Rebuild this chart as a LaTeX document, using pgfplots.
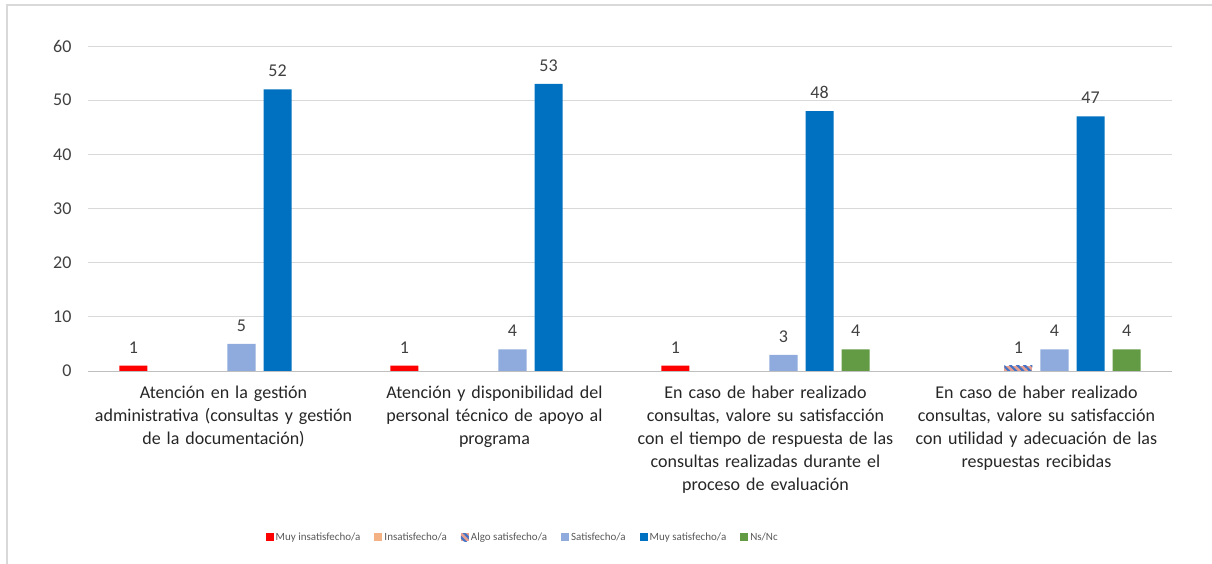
\documentclass[border=0pt]{standalone}
\usepackage{pgfplots}
\pgfplotsset{compat=1.18}
\usepackage{fontspec}
\setmainfont{Carlito}
\usetikzlibrary{patterns.meta}
\definecolor{cRed}{HTML}{FF0000}
\definecolor{cOrange}{HTML}{F4B183}
\definecolor{cSalmon}{HTML}{E8A090}
\definecolor{cStripe}{HTML}{4472C4}
\definecolor{cSat}{HTML}{8FAADC}
\definecolor{cMuy}{HTML}{0070C0}
\definecolor{cNs}{HTML}{629B44}
\definecolor{cGrid}{HTML}{D9D9D9}
\definecolor{cAxis}{HTML}{BFBFBF}
\definecolor{cText}{HTML}{404040}
\definecolor{cLeg}{HTML}{595959}
\begin{document}
\begin{tikzpicture}
\useasboundingbox (0,0) rectangle (1212bp,564bp);
\draw[cGrid, line width=1.2bp] (7bp,0) -- (7bp,559bp) -- (1212bp,559bp);
\begin{axis}[
  at={(88bp,193bp)}, anchor=south west,
  scale only axis, width=1084bp, height=325bp,
  xmin=-0.5, xmax=3.5, ymin=0, ymax=60,
  ytick={0,10,20,30,40,50,60},
  xtick={0,1,2,3},
  xticklabels={
    {Atención en la gestión\\administrativa (consultas y gestión\\de la documentación)},
    {Atención y disponibilidad del\\personal técnico de apoyo al\\programa},
    {En caso de haber realizado\\consultas, valore su satisfacción\\con el tiempo de respuesta de las\\consultas realizadas durante el\\proceso de evaluación},
    {En caso de haber realizado\\consultas, valore su satisfacción\\con utilidad y adecuación de las\\respuestas recibidas}},
  xticklabel style={align=center, text width=260bp, font=\fontsize{18bp}{23bp}\selectfont, text=black!85, yshift=-11bp},
  yticklabel style={font=\fontsize{18bp}{22bp}\selectfont, text=cText, xshift=-13bp},
  /pgf/number format/assume math mode=true,
  major tick length=0pt,
  axis lines*=left,
  x axis line style={draw=cAxis, line width=1bp, -},
  y axis line style={draw=none},
  ymajorgrids, grid style={draw=cGrid, line width=1bp},
  ybar, bar width=0.1035,
  nodes near coords,
  every node near coord/.append style={font=\fontsize{18bp}{22bp}\selectfont, text=cText, yshift=9bp},
  legend columns=6,
  legend cell align=left,
  legend style={draw=none, fill=none, at={(0.401,-0.511)}, anchor=center,
    font=\fontsize{11bp}{13bp}\selectfont, text=cLeg,
    /tikz/every even column/.append style={column sep=12bp},
    /tikz/every odd column/.append style={column sep=0bp}},
  legend image code/.code={\fill[#1] (0bp,-4bp) rectangle (8bp,4bp);},
]
\addplot[fill=cRed, draw=none, bar shift=-0.3325] coordinates {(0,1) (1,1) (2,1)};
\addlegendentry{Muy insatisfecho/a}
\addplot[fill=cOrange, draw=none, bar shift=-0.1995] coordinates {(5,0)};
\addlegendentry{Insatisfecho/a}
\addplot[fill=cSalmon, draw=none, bar shift=-0.0665,
  postaction={pattern={Lines[angle=-45, distance=5bp, line width=2.2bp]}, pattern color=cStripe}] coordinates {(3,1)};
\addlegendentry{Algo satisfecho/a}
\addplot[fill=cSat, draw=none, bar shift=0.0665] coordinates {(0,5) (1,4) (2,3) (3,4)};
\addlegendentry{Satisfecho/a}
\addplot[fill=cMuy, draw=none, bar shift=0.1995] coordinates {(0,52) (1,53) (2,48) (3,47)};
\addlegendentry{Muy satisfecho/a}
\addplot[fill=cNs, draw=none, bar shift=0.3325] coordinates {(2,4) (3,4)};
\addlegendentry{Ns/Nc}
\end{axis}
\end{tikzpicture}
\end{document}
